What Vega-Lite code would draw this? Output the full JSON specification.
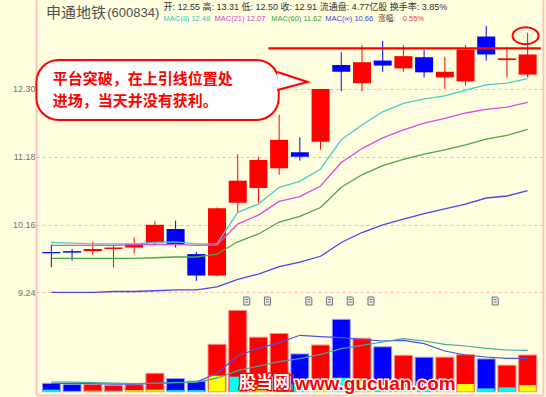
{
  "$schema": "https://vega.github.io/schema/vega-lite/v6.json",
  "width": 507,
  "height": 395,
  "autosize": {"type": "none"},
  "padding": {"left": 36, "top": 0, "right": 3, "bottom": 2},
  "background": "#FFFFE0",
  "config": {"view": {"stroke": null}},
  "datasets": {
    "k": [
      {"i":0,"o":9.78,"h":9.88,"l":9.57,"c":9.76,"ma8":9.91,"ma21":9.87,"ma60":9.69,"mainf":9.24,"vol":8.4,"sub":2,"st":"up","v5":8.4,"v10":9.7},
      {"i":1,"o":9.79,"h":9.82,"l":9.66,"c":9.77,"ma8":9.90,"ma21":9.87,"ma60":9.69,"mainf":9.24,"vol":7.4,"sub":0.8,"st":"up","v5":8.2,"v10":9.5},
      {"i":2,"o":9.79,"h":9.92,"l":9.74,"c":9.82,"ma8":9.89,"ma21":9.87,"ma60":9.69,"mainf":9.24,"vol":7.2,"sub":1,"st":"down","v5":8.0,"v10":9.0},
      {"i":3,"o":9.82,"h":9.88,"l":9.57,"c":9.84,"ma8":9.89,"ma21":9.87,"ma60":9.69,"mainf":9.25,"vol":6.4,"sub":1,"st":"up","v5":7.6,"v10":8.6},
      {"i":4,"o":9.84,"h":9.98,"l":9.76,"c":9.89,"ma8":9.89,"ma21":9.88,"ma60":9.69,"mainf":9.25,"vol":7.0,"sub":1.5,"st":"down","v5":7.5,"v10":8.2},
      {"i":5,"o":9.90,"h":10.21,"l":9.87,"c":10.16,"ma8":9.91,"ma21":9.88,"ma60":9.70,"mainf":9.26,"vol":18.4,"sub":2,"st":"down","v5":8.3,"v10":8.5},
      {"i":6,"o":10.10,"h":10.22,"l":9.84,"c":9.88,"ma8":9.92,"ma21":9.885,"ma60":9.71,"mainf":9.27,"vol":13.2,"sub":1.5,"st":"up","v5":9.3,"v10":9.0},
      {"i":7,"o":9.75,"h":9.78,"l":9.39,"c":9.46,"ma8":9.89,"ma21":9.87,"ma60":9.71,"mainf":9.27,"vol":10.5,"sub":1.5,"st":"up","v5":9.6,"v10":9.3},
      {"i":8,"o":9.46,"h":10.41,"l":9.45,"c":10.40,"ma8":9.89,"ma21":9.875,"ma60":9.75,"mainf":9.31,"vol":47.4,"sub":16,"st":"down","v5":18.4,"v10":13.5},
      {"i":9,"o":10.48,"h":11.22,"l":10.33,"c":10.81,"ma8":10.34,"ma21":10.17,"ma60":9.92,"mainf":9.41,"vol":81.3,"sub":15,"st":"up","v5":35.7,"v10":21},
      {"i":10,"o":10.70,"h":11.18,"l":10.48,"c":11.13,"ma8":10.46,"ma21":10.30,"ma60":10.03,"mainf":9.48,"vol":54.5,"sub":7,"st":"down","v5":43.4,"v10":25.5},
      {"i":11,"o":11.00,"h":11.86,"l":10.90,"c":11.45,"ma8":10.71,"ma21":10.50,"ma60":10.20,"mainf":9.58,"vol":58.2,"sub":15,"st":"up","v5":49,"v10":30},
      {"i":12,"o":11.25,"h":11.49,"l":11.12,"c":11.18,"ma8":10.80,"ma21":10.57,"ma60":10.28,"mainf":9.64,"vol":37.8,"sub":7.5,"st":"up","v5":56.4,"v10":33},
      {"i":13,"o":11.42,"h":12.30,"l":11.29,"c":12.30,"ma8":10.99,"ma21":10.73,"ma60":10.41,"mainf":9.72,"vol":46.7,"sub":10,"st":"down","v5":55,"v10":37.4},
      {"i":14,"o":12.72,"h":12.95,"l":12.26,"c":12.60,"ma8":11.45,"ma21":11.09,"ma60":10.71,"mainf":9.91,"vol":72.4,"sub":14,"st":"up","v5":54,"v10":43},
      {"i":15,"o":12.40,"h":13.08,"l":12.26,"c":12.77,"ma8":11.69,"ma21":11.31,"ma60":10.90,"mainf":10.05,"vol":53.4,"sub":10.5,"st":"down","v5":52.4,"v10":46.4},
      {"i":16,"o":12.80,"h":13.16,"l":12.60,"c":12.71,"ma8":11.91,"ma21":11.48,"ma60":11.04,"mainf":10.16,"vol":44.9,"sub":7,"st":"up","v5":50.7,"v10":49.7},
      {"i":17,"o":12.66,"h":13.08,"l":12.60,"c":12.88,"ma8":12.05,"ma21":11.61,"ma60":11.14,"mainf":10.24,"vol":36.4,"sub":4.3,"st":"down","v5":51.4,"v10":53},
      {"i":18,"o":12.86,"h":12.99,"l":12.50,"c":12.59,"ma8":12.13,"ma21":11.72,"ma60":11.22,"mainf":10.32,"vol":34.5,"sub":3.3,"st":"up","v5":48,"v10":50.7},
      {"i":19,"o":12.50,"h":12.87,"l":12.30,"c":12.60,"ma8":12.18,"ma21":11.80,"ma60":11.29,"mainf":10.39,"vol":34.5,"sub":5,"st":"down","v5":40.7,"v10":47.4},
      {"i":20,"o":12.43,"h":13.08,"l":12.36,"c":13.00,"ma8":12.28,"ma21":11.89,"ma60":11.37,"mainf":10.46,"vol":37,"sub":7.7,"st":"down","v5":36.7,"v10":45.7},
      {"i":21,"o":13.24,"h":13.44,"l":12.80,"c":12.91,"ma8":12.37,"ma21":11.95,"ma60":11.46,"mainf":10.55,"vol":32.8,"sub":3.3,"st":"up","v5":34.7,"v10":43.4},
      {"i":22,"o":12.81,"h":13.05,"l":12.50,"c":12.84,"ma8":12.40,"ma21":11.99,"ma60":11.52,"mainf":10.58,"vol":26.5,"sub":4.3,"st":"up","v5":33.4,"v10":41.7},
      {"i":23,"o":12.55,"h":13.31,"l":12.50,"c":12.91,"ma8":12.48,"ma21":12.07,"ma60":11.62,"mainf":10.66,"vol":36.7,"sub":6.7,"st":"down","v5":33.4,"v10":41.4}
    ],
    "mk": [{"i":9},{"i":10},{"i":12},{"i":13},{"i":14},{"i":15},{"i":21}]
  },
  "layer": [
    {
      "layer": [
        {
          "data": {"name": "k"},
          "mark": {"type": "rule", "strokeWidth": 1},
          "encoding": {
            "x": {"field": "i", "type": "quantitative", "scale": {"domain": [-0.5, 23.5], "nice": false, "zero": false},
                  "axis": {"title": null, "labels": false, "ticks": false, "grid": false, "domainColor": "#FFC0C0", "domainWidth": 2, "zindex": 0}},
            "y": {"field": "l", "type": "quantitative", "scale": {"type": "log", "domain": [7.997, 13.938], "nice": false, "zero": false},
                  "axis": {"title": null, "zindex": 0, "values": [9.24, 10.16, 11.18, 12.3], "format": ".2f", "ticks": false, "labelPadding": 1, "labelFont": "Liberation Sans", "labelFontSize": 9, "labelColor": "#707070", "grid": true, "gridColor": "#FFB0B0", "gridDash": [3, 3], "gridWidth": 1, "domainColor": "#FFC0C0", "domainWidth": 2}},
            "y2": {"field": "h"},
            "color": {"condition": {"test": "datum.c >= datum.o", "value": "#FF0000"}, "value": "#0000FF"}
          }
        },
        {
          "data": {"name": "k"},
          "mark": {"type": "bar", "size": 18},
          "encoding": {
            "x": {"field": "i", "type": "quantitative", "scale": {"domain": [-0.5, 23.5], "nice": false, "zero": false}},
            "y": {"field": "o", "type": "quantitative", "scale": {"type": "log", "domain": [7.997, 13.938], "nice": false, "zero": false}},
            "y2": {"field": "c"},
            "color": {"condition": {"test": "datum.c >= datum.o", "value": "#FF0000"}, "value": "#0000FF"}
          }
        },
        {
          "data": {"name": "k"},
          "transform": [{"fold": ["ma8", "ma21", "ma60", "mainf"], "as": ["ma", "v"]}],
          "mark": {"type": "line", "strokeWidth": 1.3},
          "encoding": {
            "x": {"field": "i", "type": "quantitative", "scale": {"domain": [-0.5, 23.5], "nice": false, "zero": false}},
            "y": {"field": "v", "type": "quantitative", "scale": {"type": "log", "domain": [7.997, 13.938], "nice": false, "zero": false}},
            "stroke": {"field": "ma", "type": "nominal", "scale": {"domain": ["ma8", "ma21", "ma60", "mainf"], "range": ["#48CCCC", "#E048E0", "#48A848", "#4848E8"]}, "legend": null}
          }
        },
        {
          "data": {"values": [{}]},
          "mark": {"type": "rule", "color": "#FF0000", "strokeWidth": 2.3},
          "encoding": {
            "x": {"datum": 10.48, "type": "quantitative"},
            "x2": {"datum": 23.64},
            "y": {"datum": 13.02, "type": "quantitative"}
          }
        },
        {
          "data": {"values": [{}]},
          "mark": {"type": "point", "shape": "M-13,0A13,8.5,0,1,1,13,0A13,8.5,0,1,1,-13,0Z", "size": 4, "filled": false, "stroke": "#FF0000", "strokeWidth": 2, "opacity": 1},
          "encoding": {
            "x": {"datum": 22.9, "type": "quantitative"},
            "y": {"datum": 13.254, "type": "quantitative"}
          }
        },
        {
          "data": {"values": [{}]},
          "mark": {"type": "rect", "fill": "#FFFFFF", "stroke": "#FF0000", "strokeWidth": 2, "cornerRadius": 22},
          "encoding": {
            "x": {"datum": -0.72, "type": "quantitative"},
            "x2": {"datum": 10.979},
            "y": {"datum": 12.81, "type": "quantitative"},
            "y2": {"datum": 11.774}
          }
        },
        {
          "data": {"values": [{}]},
          "mark": {"type": "point", "shape": "M-1.5,-8L29,2L-1.5,10", "size": 4, "filled": true, "fill": "#FFFFFF", "stroke": "#FF0000", "strokeWidth": 2, "opacity": 1},
          "encoding": {
            "x": {"datum": 10.979, "type": "quantitative"},
            "y": {"datum": 12.455, "type": "quantitative"}
          }
        },
        {
          "data": {"values": [{}]},
          "mark": {"type": "text", "align": "left", "baseline": "middle", "font": "Noto Sans CJK SC", "fontWeight": "bold", "fontSize": 15, "color": "#FF0000"},
          "encoding": {
            "x": {"datum": 0.068, "type": "quantitative"},
            "y": {"datum": 12.473, "type": "quantitative"},
            "text": {"value": "平台突破，在上引线位置处"}
          }
        },
        {
          "data": {"values": [{}]},
          "mark": {"type": "text", "align": "left", "baseline": "middle", "font": "Noto Sans CJK SC", "fontWeight": "bold", "fontSize": 15, "color": "#FF0000"},
          "encoding": {
            "x": {"datum": 0.068, "type": "quantitative"},
            "y": {"datum": 12.084, "type": "quantitative"},
            "text": {"value": "进场，当天并没有获利。"}
          }
        },
        {
          "data": {"values": [{}]},
          "mark": {"type": "text", "align": "left", "baseline": "middle", "font": "Noto Sans CJK SC", "fontSize": 15, "color": "#505050"},
          "encoding": {
            "x": {"datum": -0.263, "type": "quantitative"},
            "y": {"datum": 13.686, "type": "quantitative"},
            "text": {"value": "申通地铁"}
          }
        },
        {
          "data": {"values": [{}]},
          "mark": {"type": "text", "align": "left", "baseline": "middle", "font": "Liberation Sans", "fontSize": 13, "color": "#505050"},
          "encoding": {
            "x": {"datum": 2.7, "type": "quantitative"},
            "y": {"datum": 13.686, "type": "quantitative"},
            "text": {"value": "(600834)"}
          }
        },
        {
          "data": {"values": [{}]},
          "mark": {"type": "text", "align": "left", "baseline": "middle", "font": "Liberation Sans, Noto Sans CJK SC", "fontSize": 9, "color": "#303030"},
          "encoding": {
            "x": {"datum": 5.417, "type": "quantitative"},
            "y": {"datum": 13.802, "type": "quantitative"},
            "text": {"value": "开: 12.55 高: 13.31 低: 12.50 收: 12.91 流通盘: 4.77亿股 换手率: 3.85%"}
          }
        },
        {
          "data": {"values": [{}]},
          "mark": {"type": "text", "align": "left", "baseline": "middle", "font": "Liberation Sans", "fontSize": 7.5, "color": "#40C0C0"},
          "encoding": {
            "x": {"datum": 5.417, "type": "quantitative"},
            "y": {"datum": 13.571, "type": "quantitative"},
            "text": {"value": "MAC(8) 12.48"}
          }
        },
        {
          "data": {"values": [{}]},
          "mark": {"type": "text", "align": "left", "baseline": "middle", "font": "Liberation Sans", "fontSize": 7.5, "color": "#D040D0"},
          "encoding": {
            "x": {"datum": 7.879, "type": "quantitative"},
            "y": {"datum": 13.571, "type": "quantitative"},
            "text": {"value": "MAC(21) 12.07"}
          }
        },
        {
          "data": {"values": [{}]},
          "mark": {"type": "text", "align": "left", "baseline": "middle", "font": "Liberation Sans", "fontSize": 7.5, "color": "#40A040"},
          "encoding": {
            "x": {"datum": 10.624, "type": "quantitative"},
            "y": {"datum": 13.571, "type": "quantitative"},
            "text": {"value": "MAC(60) 11.62"}
          }
        },
        {
          "data": {"values": [{}]},
          "mark": {"type": "text", "align": "left", "baseline": "middle", "font": "Liberation Sans, DejaVu Sans", "fontSize": 7.5, "color": "#4040E0"},
          "encoding": {
            "x": {"datum": 13.228, "type": "quantitative"},
            "y": {"datum": 13.571, "type": "quantitative"},
            "text": {"value": "MAC(∞) 10.66"}
          }
        },
        {
          "data": {"values": [{}]},
          "mark": {"type": "text", "align": "left", "baseline": "middle", "font": "Liberation Sans, Noto Sans CJK SC", "fontSize": 7.5, "color": "#404040"},
          "encoding": {
            "x": {"datum": 15.784, "type": "quantitative"},
            "y": {"datum": 13.571, "type": "quantitative"},
            "text": {"value": "涨幅:"}
          }
        },
        {
          "data": {"values": [{}]},
          "mark": {"type": "text", "align": "left", "baseline": "middle", "font": "Liberation Sans", "fontSize": 7.5, "color": "#E04040"},
          "encoding": {
            "x": {"datum": 16.967, "type": "quantitative"},
            "y": {"datum": 13.571, "type": "quantitative"},
            "text": {"value": "0.55%"}
          }
        }
      ]
    },
    {
      "layer": [
        {
          "data": {"name": "k"},
          "mark": {"type": "bar", "size": 18, "strokeWidth": 1},
          "encoding": {
            "x": {"field": "i", "type": "quantitative", "scale": {"domain": [-0.5, 23.5], "nice": false, "zero": false}},
            "y": {"field": "vol", "type": "quantitative", "scale": {"domain": [-3.3, 391.7], "nice": false, "zero": false},
                  "axis": {"orient": "right", "title": null, "labels": false, "ticks": false, "grid": false, "domainColor": "#FFC0C0", "domainWidth": 2, "zindex": 0}},
            "y2": {"datum": 0},
            "color": {"condition": {"test": "datum.c >= datum.o", "value": "#FF0000"}, "value": "#0000FF"},
            "stroke": {"condition": {"test": "datum.c >= datum.o", "value": "#FF8888"}, "value": "#A0A0FF"}
          }
        },
        {
          "data": {"name": "k"},
          "mark": {"type": "bar", "size": 16.5},
          "encoding": {
            "x": {"field": "i", "type": "quantitative", "scale": {"domain": [-0.5, 23.5], "nice": false, "zero": false}},
            "y": {"field": "sub", "type": "quantitative", "scale": {"domain": [-3.3, 391.7], "nice": false, "zero": false}},
            "y2": {"datum": 0.3},
            "fill": {"field": "st", "type": "nominal", "scale": {"domain": ["up", "down"], "range": ["#00FFFF", "#FFFF00"]}, "legend": null}
          }
        },
        {
          "data": {"name": "k"},
          "transform": [{"fold": ["v5", "v10"], "as": ["vm", "vv"]}],
          "mark": {"type": "line", "strokeWidth": 1.2},
          "encoding": {
            "x": {"field": "i", "type": "quantitative", "scale": {"domain": [-0.5, 23.5], "nice": false, "zero": false}},
            "y": {"field": "vv", "type": "quantitative", "scale": {"domain": [-3.3, 391.7], "nice": false, "zero": false}},
            "color": {"field": "vm", "type": "nominal", "scale": {"domain": ["v5", "v10"], "range": ["#5050E8", "#40A8A0"]}, "legend": null}
          }
        },
        {
          "data": {"name": "mk"},
          "mark": {"type": "point", "shape": "M-3,-4H2L3,-3V4H-3Z M-1.5,-1.5H1.5 M-1.5,1H1.5", "size": 4, "filled": true, "fill": "#F0F0F0", "stroke": "#707070", "strokeWidth": 1, "opacity": 1, "xOffset": 9},
          "encoding": {
            "x": {"field": "i", "type": "quantitative", "scale": {"domain": [-0.5, 23.5], "nice": false, "zero": false}},
            "y": {"datum": 90.7, "type": "quantitative"}
          }
        },
        {
          "data": {"values": [{}]},
          "mark": {"type": "rect", "filled": false, "stroke": "#FF0000", "strokeWidth": 1.5},
          "encoding": {
            "x": {"datum": 10.894, "type": "quantitative"},
            "x2": {"datum": 11.68},
            "y": {"datum": 16.7, "type": "quantitative"},
            "y2": {"datum": 0.7}
          }
        },
        {
          "data": {"values": [{}]},
          "mark": {"type": "text", "align": "left", "baseline": "bottom", "font": "Noto Sans CJK SC", "fontWeight": "bold", "fontSize": 17, "fill": "#FF0000", "stroke": "#FF0000", "strokeWidth": 2.5},
          "encoding": {
            "x": {"datum": 9.06, "type": "quantitative"},
            "y": {"datum": 0, "type": "quantitative"},
            "text": {"value": "股当网"}
          }
        },
        {
          "data": {"values": [{}]},
          "mark": {"type": "text", "align": "left", "baseline": "bottom", "font": "Noto Sans CJK SC", "fontWeight": "bold", "fontSize": 17, "fill": "#FFFFFF"},
          "encoding": {
            "x": {"datum": 9.06, "type": "quantitative"},
            "y": {"datum": 0, "type": "quantitative"},
            "text": {"value": "股当网"}
          }
        },
        {
          "data": {"values": [{}]},
          "mark": {"type": "text", "align": "left", "baseline": "alphabetic", "font": "Liberation Sans", "fontWeight": "bold", "fontSize": 19, "fill": "#FFFFFF", "stroke": "#FFFFFF", "strokeWidth": 3},
          "encoding": {
            "x": {"datum": 11.76, "type": "quantitative"},
            "y": {"datum": 1.7, "type": "quantitative"},
            "text": {"value": "www.gucuan.com"}
          }
        },
        {
          "data": {"values": [{}]},
          "mark": {"type": "text", "align": "left", "baseline": "alphabetic", "font": "Liberation Sans", "fontWeight": "bold", "fontSize": 19, "fill": "#FF0000"},
          "encoding": {
            "x": {"datum": 11.76, "type": "quantitative"},
            "y": {"datum": 1.7, "type": "quantitative"},
            "text": {"value": "www.gucuan.com"}
          }
        }
      ]
    }
  ],
  "resolve": {"scale": {"y": "independent"}}
}
